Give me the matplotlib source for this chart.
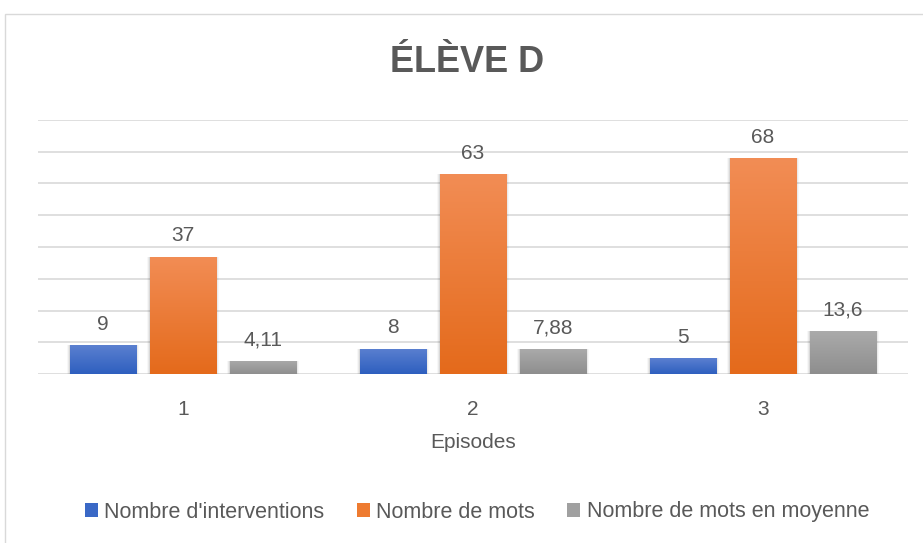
import matplotlib
matplotlib.use("Agg")
import matplotlib.pyplot as plt
import numpy as np
from matplotlib.patches import Rectangle
from matplotlib.colors import LinearSegmentedColormap

categories = ["1", "2", "3"]
series_names = ["Nombre d'interventions", "Nombre de mots", "Nombre de mots en moyenne"]
interventions = [9, 8, 5]
mots = [37, 63, 68]
moyenne = [4.11, 7.88, 13.6]
labels_interventions = ["9", "8", "5"]
labels_mots = ["37", "63", "68"]
labels_moyenne = ["4,11", "7,88", "13,6"]

series = [interventions, mots, moyenne]
series_labels = [labels_interventions, labels_mots, labels_moyenne]
top_colors = ["#5b80d0", "#f28d55", "#ababab"]
bot_colors = ["#2e5fbf", "#e46a1b", "#8e8e8e"]
legend_colors = ["#3a68c6", "#ee7b30", "#a0a0a0"]

FONT = ["Liberation Sans", "DejaVu Sans"]
TXT = "#595959"
plt.rcParams['font.family'] = FONT

W, H = 923, 543
fig = plt.figure(figsize=(W / 100, H / 100), dpi=100)
fig.patch.set_facecolor("white")

# chart border
fig.add_artist(Rectangle((5 / W, -0.1), 1.2, 1 - 14 / H + 0.1, transform=fig.transFigure,
                         fill=False, edgecolor="#d9d9d9", linewidth=1.0))

ax = fig.add_axes([38 / W, 1 - 374 / H, 870 / W, 254 / H])
ax.set_xlim(-0.5, 2.5)
ax.set_ylim(0, 80)
ax.set_yticks(np.arange(0, 81, 10))
ax.yaxis.grid(True, color="#d9d9d9", linewidth=1.2)
ax.set_axisbelow(True)
for s in ax.spines.values():
    s.set_visible(False)
ax.tick_params(axis="y", left=False, labelleft=False)
ax.tick_params(axis="x", bottom=False, labelsize=15, labelcolor=TXT, pad=15)
x = np.arange(len(categories))
ax.set_xticks(x)
ax.set_xticklabels(categories)

bw = 0.2276
off = 0.276
for i, (vals, labs) in enumerate(zip(series, series_labels)):
    pos = x + (i - 1) * off
    bars = ax.bar(pos, vals, width=bw, color=legend_colors[i], zorder=3, linewidth=0)
    cmap = LinearSegmentedColormap.from_list("g%d" % i, [bot_colors[i], top_colors[i]])
    grad = np.linspace(0, 1, 256).reshape(-1, 1)
    for b, v, lab in zip(bars, vals, labs):
        x0, y0 = b.get_x(), b.get_y()
        w, h = b.get_width(), b.get_height()
        # soft shadow
        for k, a in enumerate([0.07, 0.05, 0.03]):
            ax.add_patch(Rectangle((x0 - 0.003 * (k + 1), y0 - 0.3 * (k + 1)), w + 0.006 * (k + 1), h + 0.3 * (k + 1),
                                   facecolor="black", alpha=a, linewidth=0, zorder=2))
        im = ax.imshow(grad, extent=(x0, x0 + w, y0, y0 + h), origin="lower", cmap=cmap,
                       aspect="auto", zorder=4, interpolation="bilinear")
        im.set_clip_path(b)
        ax.annotate(lab, (x0 + w / 2, v), xytext=(0, 8), textcoords="offset points",
                    ha="center", va="bottom", fontsize=15, color=TXT, zorder=5)

ax.set_xlim(-0.5, 2.5)
ax.set_ylim(0, 80)
ax.set_xlabel("Episodes", fontsize=15, color=TXT, labelpad=10)

fig.text(467 / W, 1 - 62 / H, "ÉLÈVE D", ha="center", va="center", fontsize=26,
         fontweight="bold", color=TXT)

handles = [Rectangle((0, 0), 1, 1, facecolor=c) for c in legend_colors]
fig.legend(handles, series_names, loc="center", bbox_to_anchor=(477 / W, 1 - 512 / H), ncol=3,
           frameon=False, fontsize=15.5, labelcolor=TXT, handlelength=0.6, handleheight=0.6,
           handletextpad=0.3, columnspacing=1.5)

fig.savefig("out.png", dpi=100, facecolor="white")
